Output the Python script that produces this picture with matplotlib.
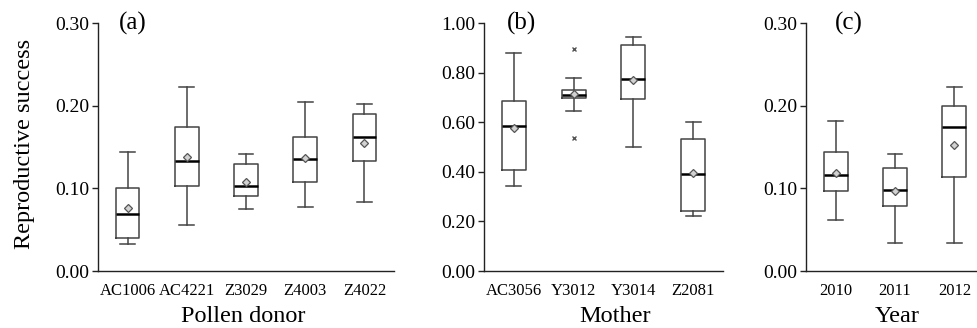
import matplotlib
matplotlib.use("Agg")
import matplotlib.pyplot as plt
from matplotlib.ticker import FormatStrFormatter

plt.rcParams['font.family'] = ['Liberation Serif', 'DejaVu Serif']

# ---- Data ----
donors = ["AC1006", "AC4221", "Z3029", "Z4003", "Z4022"]
donor_whislo = [0.033, 0.056, 0.075, 0.077, 0.083]
donor_q1 = [0.040, 0.103, 0.091, 0.108, 0.133]
donor_med = [0.069, 0.133, 0.103, 0.135, 0.162]
donor_q3 = [0.100, 0.174, 0.129, 0.162, 0.190]
donor_whishi = [0.144, 0.222, 0.141, 0.205, 0.202]
donor_mean = [0.076, 0.138, 0.108, 0.137, 0.155]

mothers = ["AC3056", "Y3012", "Y3014", "Z2081"]
mother_whislo = [0.344, 0.646, 0.501, 0.222]
mother_q1 = [0.407, 0.696, 0.692, 0.242]
mother_med = [0.585, 0.711, 0.776, 0.392]
mother_q3 = [0.685, 0.730, 0.910, 0.534]
mother_whishi = [0.880, 0.780, 0.945, 0.600]
mother_mean = [0.577, 0.712, 0.769, 0.395]
mother_fliers = [[], [0.895, 0.535], [], []]

years = ["2010", "2011", "2012"]
year_whislo = [0.0615, 0.0334, 0.0334]
year_q1 = [0.0973, 0.0788, 0.1138]
year_med = [0.116, 0.098, 0.174]
year_q3 = [0.144, 0.125, 0.1994]
year_whishi = [0.182, 0.1415, 0.222]
year_mean = [0.119, 0.097, 0.153]

W, H = 978, 328
fig = plt.figure(figsize=(W / 100, H / 100), dpi=100)

def px_axes(left, right):
    return fig.add_axes([left / W, 57 / H, (right - left) / W, 248 / H])

box_color = '#444444'

def draw(ax, labels, lo, q1, med, q3, hi, mean, fliers, ymax, yticks, panel, plabel_x, xlabel, xlabel_px):
    stats = []
    for i, lab in enumerate(labels):
        stats.append(dict(label=lab, whislo=lo[i], q1=q1[i], med=med[i], q3=q3[i],
                          whishi=hi[i], mean=mean[i],
                          fliers=fliers[i] if fliers else []))
    ax.bxp(stats, positions=range(1, len(labels) + 1), widths=0.4,
           showmeans=True, showfliers=True, patch_artist=False,
           boxprops=dict(color=box_color, linewidth=1.1),
           whiskerprops=dict(color=box_color, linewidth=1.1),
           capprops=dict(color=box_color, linewidth=1.1),
           capwidths=0.25,
           medianprops=dict(color='black', linewidth=1.8),
           meanprops=dict(marker='D', markersize=4.2, markerfacecolor='#d2d2d2',
                          markeredgecolor='#555555', markeredgewidth=0.9),
           flierprops=dict(marker='x', markersize=3.5, markeredgecolor='#555555',
                           markeredgewidth=1.0))
    ax.set_ylim(0, ymax)
    ax.set_yticks(yticks)
    ax.yaxis.set_major_formatter(FormatStrFormatter('%.2f'))
    ax.spines['top'].set_visible(False)
    ax.spines['right'].set_visible(False)
    for s in ('left', 'bottom'):
        ax.spines[s].set_linewidth(1.0)
        ax.spines[s].set_color('#222222')
    ax.tick_params(axis='y', length=4, width=1.0, pad=2, labelsize=14, color='#222222')
    ax.tick_params(axis='x', length=0, pad=8.5, labelsize=12)
    ax.text(plabel_x, ymax, panel, fontsize=18, ha='center', va='center')
    fig.text(xlabel_px / W, 5.5 / H, xlabel, fontsize=17.5, ha='center', va='baseline')

ax1 = px_axes(98, 394)
ax1.set_xlim(0.5, 5.5)
draw(ax1, donors, donor_whislo, donor_q1, donor_med, donor_q3, donor_whishi, donor_mean,
     None, 0.30, [0.0, 0.1, 0.2, 0.3], '(a)', 1.09, 'Pollen donor', 243)

ax2 = px_axes(484, 723)
ax2.set_xlim(0.5, 4.5)
draw(ax2, mothers, mother_whislo, mother_q1, mother_med, mother_q3, mother_whishi, mother_mean,
     mother_fliers, 1.0, [0.0, 0.2, 0.4, 0.6, 0.8, 1.0], '(b)', 1.13, 'Mother', 615)

ax3 = px_axes(806, 984)
ax3.set_xlim(0.5, 3.5)
draw(ax3, years, year_whislo, year_q1, year_med, year_q3, year_whishi, year_mean,
     None, 0.30, [0.0, 0.1, 0.2, 0.3], '(c)', 1.22, 'Year', 897)

fig.text(25 / W, 1 - 144 / H, 'Reproductive success', fontsize=17.5, rotation=90,
         ha='center', va='center')

fig.savefig('out.png', dpi=100)
